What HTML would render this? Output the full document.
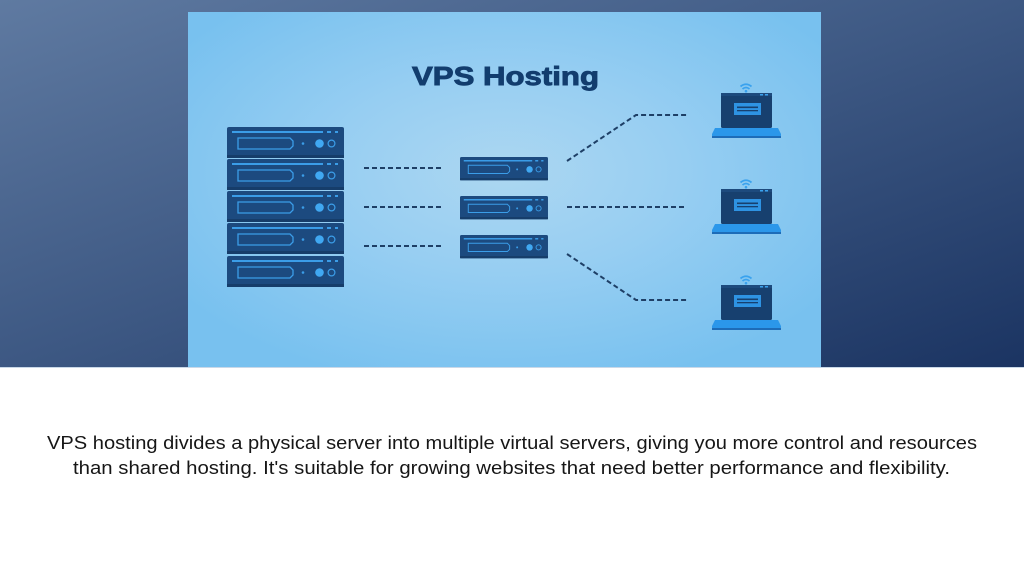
<!DOCTYPE html>
<html><head><meta charset="utf-8"><style>
html,body{margin:0;padding:0;width:1024px;height:576px;overflow:hidden;background:#fff}
svg{display:block}
</style></head><body>
<svg width="1024" height="576" viewBox="0 0 1024 576" xmlns="http://www.w3.org/2000/svg">
<defs>
<linearGradient id="bg" x1="0" y1="0" x2="1" y2="1">
<stop offset="0" stop-color="#5f7aa1"/>
<stop offset="0.5" stop-color="#3d5883"/>
<stop offset="1" stop-color="#1b3462"/>
</linearGradient>
<radialGradient id="panel" cx="0.5" cy="0.45" r="0.62">
<stop offset="0" stop-color="#acd7f1"/>
<stop offset="0.45" stop-color="#97cef2"/>
<stop offset="1" stop-color="#78c1ef"/>
</radialGradient>
<g id="unit">
<rect x="0" y="0" width="117" height="31" rx="2" fill="#1c4a7f"/>
<rect x="0" y="28" width="117" height="3" fill="#163d6a"/>
<rect x="5" y="4" width="91" height="2" fill="#3b9de8"/>
<rect x="100" y="4" width="4" height="2" fill="#3b9de8"/>
<rect x="108" y="4" width="3" height="2" fill="#3b9de8"/>
<path d="M11,11 H63 L66,14 V19 L63,22 H11 Z" fill="none" stroke="#3b9de8" stroke-width="1.3"/>
<circle cx="76" cy="16.5" r="1.3" fill="#3b9de8"/>
<circle cx="92.5" cy="16.5" r="4.3" fill="#40a8f2"/>
<circle cx="104.5" cy="16.5" r="3.4" fill="none" stroke="#3b9de8" stroke-width="1.2"/>
</g>
<g id="laptop">
<path d="M740.5,-6.5 Q746,-11 751.5,-6.5" fill="none" stroke="#3aa2ee" stroke-width="1.8"/>
<path d="M742.5,-4 Q746,-7 749.5,-4" fill="none" stroke="#3aa2ee" stroke-width="1.8"/>
<circle cx="746" cy="-1.8" r="1.3" fill="#3aa2ee"/>
<rect x="721" y="0" width="51" height="35" rx="1.5" fill="#17406f"/>
<rect x="721" y="0" width="51" height="3" fill="#1d4a7d"/>
<rect x="760" y="1" width="3" height="1.5" fill="#3aa2ee"/>
<rect x="765" y="1" width="3" height="1.5" fill="#3aa2ee"/>
<rect x="734" y="10" width="27" height="12" fill="#2e93e3"/>
<rect x="737" y="13.5" width="21" height="1.6" fill="#17406f"/>
<rect x="737" y="17" width="21" height="1.3" fill="#17406f"/>
<path d="M715,35 H778 L781,41 V45 H712 V41 Z" fill="#2b97ea"/>
<rect x="712" y="43" width="69" height="2" fill="#1d6cb8"/>
</g>
</defs>

<rect x="0" y="0" width="1024" height="367" fill="url(#bg)"/>
<rect x="188" y="12" width="633" height="355" fill="url(#panel)"/>
<rect x="0" y="367" width="1024" height="1" fill="#c9d8e8"/>

<text x="412" y="85" font-family="'Liberation Sans', sans-serif" font-weight="bold" font-size="26" fill="#123d6e" stroke="#123d6e" stroke-width="0.9" textLength="187" lengthAdjust="spacingAndGlyphs">VPS Hosting</text>

<use href="#unit" x="227" y="127"/>
<use href="#unit" x="227" y="159"/>
<use href="#unit" x="227" y="191"/>
<use href="#unit" x="227" y="223"/>
<use href="#unit" x="227" y="256"/>

<g transform="translate(460,157) scale(0.752)"><use href="#unit"/></g>
<g transform="translate(460,196) scale(0.752)"><use href="#unit"/></g>
<g transform="translate(460,235) scale(0.752)"><use href="#unit"/></g>

<g stroke="#1e3f66" stroke-width="2" stroke-dasharray="5,3" fill="none">
<line x1="364" y1="168" x2="442" y2="168"/>
<line x1="364" y1="207" x2="442" y2="207"/>
<line x1="364" y1="246" x2="442" y2="246"/>
<polyline points="567,161 636,115 687,115"/>
<line x1="567" y1="207" x2="687" y2="207"/>
<polyline points="567,254 636,300 687,300"/>
</g>

<use href="#laptop" x="0" y="93"/>
<use href="#laptop" x="0" y="189"/>
<use href="#laptop" x="0" y="285"/>

<g font-family="'Liberation Sans', sans-serif" font-size="18.5" fill="#161616">
<text x="47" y="449" textLength="930" lengthAdjust="spacingAndGlyphs">VPS hosting divides a physical server into multiple virtual servers, giving you more control and resources</text>
<text x="73" y="474" textLength="877" lengthAdjust="spacingAndGlyphs">than shared hosting. It's suitable for growing websites that need better performance and flexibility.</text>
</g>
</svg>
</body></html>
